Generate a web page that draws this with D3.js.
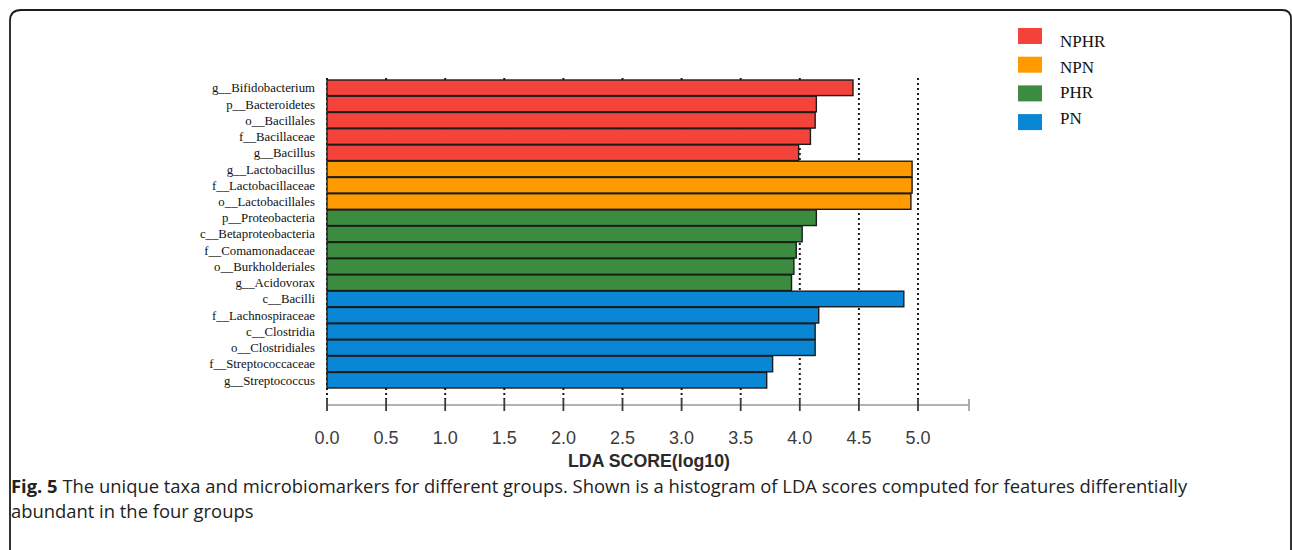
<!DOCTYPE html>
<html>
<head>
<meta charset="utf-8">
<script src="https://cdn.jsdelivr.net/npm/d3@7"></script>
<style>
  html, body { margin: 0; padding: 0; background: #fff; }
  svg { display: block; }
</style>
</head>
<body>
<svg id="chart" width="1292" height="550"></svg>
<script>
// LDA effect size results: taxon, enriched group, LDA score (log10)
const taxa = [
  "g__Bifidobacterium", "p__Bacteroidetes", "o__Bacillales", "f__Bacillaceae", "g__Bacillus",
  "g__Lactobacillus", "f__Lactobacillaceae", "o__Lactobacillales",
  "p__Proteobacteria", "c__Betaproteobacteria", "f__Comamonadaceae", "o__Burkholderiales", "g__Acidovorax",
  "c__Bacilli", "f__Lachnospiraceae", "c__Clostridia", "o__Clostridiales", "f__Streptococcaceae", "g__Streptococcus"
];
const groupOf = [
  "NPHR", "NPHR", "NPHR", "NPHR", "NPHR",
  "NPN", "NPN", "NPN",
  "PHR", "PHR", "PHR", "PHR", "PHR",
  "PN", "PN", "PN", "PN", "PN", "PN"
];
const ldaScores = [
  4.45, 4.14, 4.13, 4.09, 3.99,
  4.95, 4.95, 4.94,
  4.14, 4.02, 3.97, 3.95, 3.93,
  4.88, 4.16, 4.13, 4.13, 3.77, 3.72
];
const groups = ["NPHR", "NPN", "PHR", "PN"];
const groupColors = ["#f4433a", "#ff9a00", "#3b8c3f", "#0986d4"];
const tickValues = [0, 0.5, 1.0, 1.5, 2.0, 2.5, 3.0, 3.5, 4.0, 4.5, 5.0];
const axisTitle = "LDA SCORE(log10)";
const captionBold = "Fig. 5";
const captionLines = [
  " The unique taxa and microbiomarkers for different groups. Shown is a histogram of LDA scores computed for features differentially",
  "abundant in the four groups"
];

const svg = d3.select("#chart");

// rounded figure frame
svg.append("path")
  .attr("d", "M10,552 V21 Q10,10 21,10 H1282 Q1291,10 1291,19 V552")
  .attr("fill", "none")
  .attr("stroke", "#1e1e1e")
  .attr("stroke-width", 1.8);

const x = d3.scaleLinear().domain([0, 5]).range([327, 918]);
const y = d3.scaleBand().domain(taxa).range([80, 388]).paddingInner(0.04);
const color = d3.scaleOrdinal().domain(groups).range(groupColors);

const axisY = 405;
const plot = svg.append("g");

// dotted reference lines behind the bars
plot.selectAll("line.grid")
  .data(tickValues)
  .join("line")
  .attr("class", "grid")
  .attr("x1", d => x(d)).attr("x2", d => x(d))
  .attr("y1", 78).attr("y2", axisY - 6)
  .attr("stroke", "#1a1a1a")
  .attr("stroke-width", 2)
  .attr("stroke-dasharray", "2,3");

// bars
plot.selectAll("rect.bar")
  .data(taxa)
  .join("rect")
  .attr("class", "bar")
  .attr("x", x(0))
  .attr("y", d => y(d))
  .attr("width", (d, i) => x(ldaScores[i]) - x(0))
  .attr("height", y.bandwidth())
  .attr("fill", (d, i) => color(groupOf[i]))
  .attr("stroke", "#1c1c1c")
  .attr("stroke-width", 1.4);

// taxon labels
svg.append("g")
  .selectAll("text")
  .data(taxa)
  .join("text")
  .attr("x", 315)
  .attr("y", d => y(d) + y.bandwidth() / 2)
  .attr("dy", "0.35em")
  .attr("text-anchor", "end")
  .attr("font-family", "Liberation Serif, Times New Roman, serif")
  .attr("font-size", 12.8)
  .attr("fill", "#111")
  .text(d => d);

// x axis: tick positions from the scale, drawn as short marks on a grey baseline
const axisG = svg.append("g").attr("transform", `translate(0,${axisY})`);
axisG.append("line")
  .attr("x1", 327).attr("x2", 969).attr("y1", 0).attr("y2", 0)
  .attr("stroke", "#9a9a9a").attr("stroke-width", 1.6);
axisG.append("line")
  .attr("x1", 969).attr("x2", 969).attr("y1", -6).attr("y2", 6)
  .attr("stroke", "#9a9a9a").attr("stroke-width", 1.6);
axisG.selectAll("line.tk")
  .data(tickValues)
  .join("line")
  .attr("class", "tk")
  .attr("x1", d => x(d)).attr("x2", d => x(d))
  .attr("y1", -6).attr("y2", 6)
  .attr("stroke", "#3a3a3a").attr("stroke-width", 1.8);

svg.append("g")
  .selectAll("text")
  .data(tickValues)
  .join("text")
  .attr("x", d => x(d))
  .attr("y", 444)
  .attr("text-anchor", "middle")
  .attr("font-family", "Liberation Sans, Arial, sans-serif")
  .attr("font-size", 18)
  .attr("fill", "#3c3c3c")
  .text(d3.format(".1f"));

svg.append("text")
  .attr("x", 649)
  .attr("y", 467)
  .attr("text-anchor", "middle")
  .attr("font-family", "Liberation Sans, Arial, sans-serif")
  .attr("font-size", 17.5)
  .attr("font-weight", "bold")
  .attr("textLength", 162)
  .attr("lengthAdjust", "spacingAndGlyphs")
  .attr("fill", "#2a2a2a")
  .text(axisTitle);

// legend
const legend = svg.append("g");
legend.selectAll("rect")
  .data(groups)
  .join("rect")
  .attr("x", 1018)
  .attr("y", (d, i) => 28 + i * 28.7)
  .attr("width", 24)
  .attr("height", 16)
  .attr("fill", d => color(d));
legend.selectAll("text")
  .data(groups)
  .join("text")
  .attr("x", 1060)
  .attr("y", (d, i) => 47 + i * 25.5)
  .attr("font-family", "Liberation Serif, Times New Roman, serif")
  .attr("font-size", 17)
  .attr("fill", "#111")
  .text(d => d);

// figure caption
const cap = svg.append("text")
  .attr("font-family", "Open Sans, sans-serif")
  .attr("font-size", 18.4)
  .attr("fill", "#222");
const l1 = cap.append("tspan").attr("x", 11).attr("y", 493);
l1.append("tspan").attr("font-weight", "bold").text(captionBold);
l1.append("tspan").text(captionLines[0]);
cap.append("tspan").attr("x", 11).attr("y", 518).text(captionLines[1]);
</script>
</body>
</html>
